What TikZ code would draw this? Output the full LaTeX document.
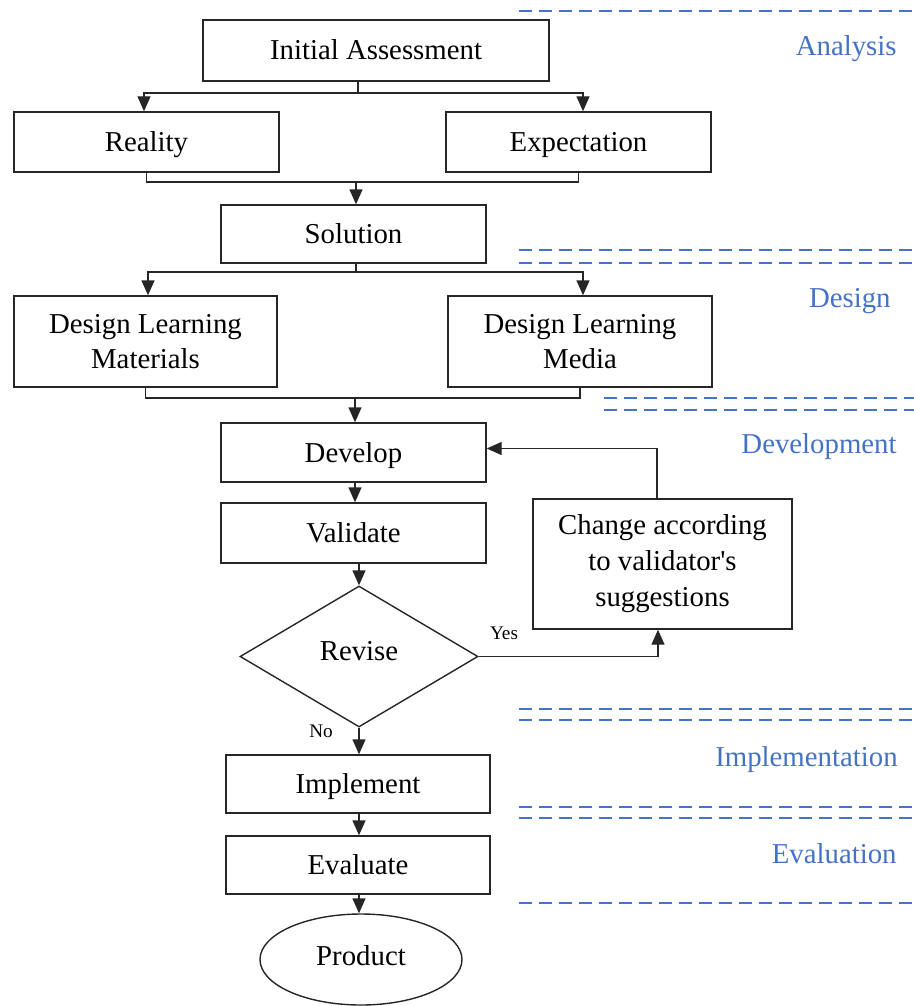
\documentclass[tikz,border=0pt]{standalone}
\usepackage{fontspec}
\setmainfont{Liberation Serif}
\usetikzlibrary{shapes.geometric,arrows.meta}
\definecolor{phaseblue}{HTML}{4472C4}
\begin{document}
\begin{tikzpicture}[x=0.5pt,y=-0.5pt,
  box/.style={draw=black!85,line width=0.7pt,rectangle,inner sep=0pt,align=center,
    font=\fontsize{14.4}{17.5}\selectfont},
  oneline/.style={text height=9.5pt,text depth=0pt},
  decision/.style={draw=black!85,line width=0.7pt,diamond,inner sep=0pt,
    font=\fontsize{14.4}{17.5}\selectfont,text height=9.5pt,text depth=6pt},
  term/.style={draw=black!85,line width=0.7pt,ellipse,inner sep=0pt,
    font=\fontsize{14.4}{17.5}\selectfont,text height=9.5pt,text depth=3.5pt},
  conn/.style={draw=black!85,line width=0.7pt},
  arr/.style={conn,-{Triangle[width=6.5pt,length=7.5pt]}},
  sep/.style={draw=phaseblue,line width=1.2pt,dash pattern=on 6.5pt off 3.5pt},
  phase/.style={text=phaseblue,anchor=base east,inner sep=0pt,font=\fontsize{14.4}{17.5}\selectfont},
  small/.style={inner sep=0pt,font=\fontsize{9.6}{11}\selectfont}
]
\useasboundingbox (0,0) rectangle (914,1006);

% nodes
\node[box,oneline,minimum width=173pt,minimum height=30.5pt] (ia) at (376,50.5) {Initial Assessment};
\node[box,oneline,minimum width=132.5pt,minimum height=30pt] (real) at (146.5,142) {Reality};
\node[box,oneline,minimum width=132.5pt,minimum height=30pt] (expt) at (578.5,142) {Expectation};
\node[box,oneline,minimum width=132.5pt,minimum height=29pt] (sol) at (353.5,234) {Solution};
\node[box,minimum width=131.5pt,minimum height=45.5pt] (dlm) at (145.5,341.5) {Design Learning\\Materials};
\node[box,minimum width=132pt,minimum height=45.5pt] (dlme) at (580,341.5) {Design Learning\\Media};
\node[box,oneline,minimum width=132.5pt,minimum height=29.5pt] (dev) at (353.5,452.5) {Develop};
\node[box,oneline,minimum width=132.5pt,minimum height=30pt] (val) at (353.5,533) {Validate};
\node[decision,minimum width=119pt,minimum height=70.5pt] (rev) at (359,656.5) {Revise};
\node[box,minimum width=129.5pt,minimum height=65pt,font=\fontsize{14.4}{18}\selectfont] (chg) at (662.5,564) {Change according\\to validator\textquotesingle s\\suggestions};
\node[box,oneline,minimum width=132pt,minimum height=29pt] (imp) at (358,784) {Implement};
\node[box,oneline,minimum width=132pt,minimum height=29pt] (evl) at (358,865) {Evaluate};
\node[term,minimum width=101pt,minimum height=45.5pt] (prod) at (361,959.5) {Product};

% labels
\node[small] (yes) at (504,633) {Yes};
\node[small] (no) at (321,731) {No};

% phase labels
\node[phase] (lan) at (897,56) {Analysis};
\node[phase] (lde) at (891,307) {Design};
\node[phase] (ldv) at (897,453) {Development};
\node[phase] (lim) at (898,766) {Implementation};
\node[phase] (lev) at (897,863) {Evaluation};

% separators
\draw[sep] (519,11) -- (914,11);
\draw[sep] (519,250) -- (914,250);
\draw[sep] (519,263) -- (914,263);
\draw[sep] (604,398) -- (914,398);
\draw[sep] (604,410) -- (914,410);
\draw[sep] (519,709) -- (914,709);
\draw[sep] (519,720) -- (914,720);
\draw[sep] (519,807) -- (914,807);
\draw[sep] (519,818) -- (914,818);
\draw[sep] (519,903) -- (914,903);

% connectors
\coordinate (s1) at (358,93);
\draw[conn] (ia.south -| s1) -- (s1);
\draw[arr] (s1) -| ([xshift=-1.25pt]real.north);
\draw[arr] (s1) -| ([xshift=2.25pt]expt.north);

\coordinate (m1) at (356,182);
\draw[conn] (real.south) |- (m1);
\draw[conn] (expt.south) |- (m1);
\draw[arr] (m1) -- (sol.north -| m1);

\coordinate (s2) at (356,272);
\draw[conn] (sol.south -| s2) -- (s2);
\draw[arr] (s2) -| ([xshift=1.25pt]dlm.north);
\draw[arr] (s2) -| ([xshift=1.5pt]dlme.north);

\coordinate (m2) at (355,398);
\draw[conn] (dlm.south) |- (m2);
\draw[conn] (dlme.south) |- (m2);
\draw[arr] (m2) -- (dev.north -| m2);

\draw[arr] (dev.south -| m2) -- (val.north -| m2);
\draw[arr] (val.south -| rev.north) -- (rev.north);
\draw[arr] (rev.east) -| ([xshift=-2.25pt]chg.south);
\draw[arr] ([xshift=-2.75pt]chg.north) |- ([yshift=2pt]dev.east);
\draw[arr] (rev.south) -- (imp.north -| rev.south);
\draw[arr] (imp.south -| rev.south) -- (evl.north -| rev.south);
\draw[arr] (evl.south -| rev.south) -- (prod.north -| rev.south);
\end{tikzpicture}
\end{document}
